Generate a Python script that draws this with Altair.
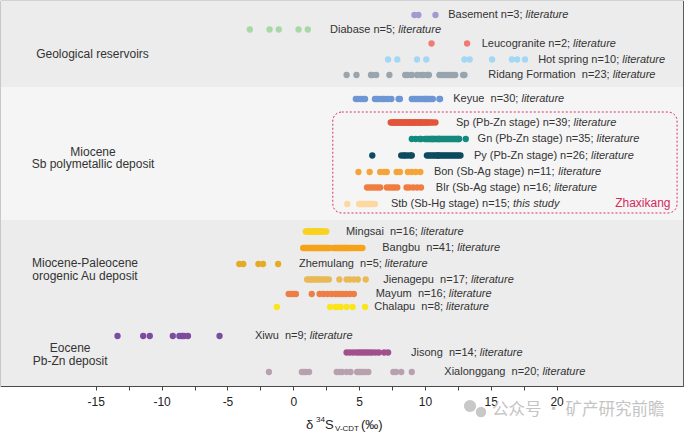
import altair as alt
import pandas as pd

# ---------------- data ----------------
names = ["Basement", "Diabase", "Leucogranite", "Hot spring", "Ridang Formation",
         "Keyue", "Sp (Pb-Zn stage)", "Gn (Pb-Zn stage)", "Py (Pb-Zn stage)",
         "Bon (Sb-Ag stage)", "Blr (Sb-Ag stage)", "Stb (Sb-Hg stage)",
         "Mingsai", "Bangbu", "Zhemulang", "Jienagepu", "Mayum", "Chalapu",
         "Xiwu", "Jisong", "Xialonggang"]
counts = [3, 5, 2, 10, 23, 30, 39, 35, 26, 11, 16, 15, 16, 41, 5, 17, 16, 8, 9, 14, 20]
sources = ["literature"] * 11 + ["this study"] + ["literature"] * 9
wide_gap = [False, False, False, False, True, True, False, False, False, False, False,
            False, True, True, True, True, True, True, True, True, True]

basement = [9.2, 9.5, 10.8]
diabase = [-3.3, -1.8, -1.1, 0.4, 1.1]
leucogranite = [10.5, 13.2]
hot_spring = [7.2, 7.9, 9.4, 10.1, 13.0, 13.4, 15.1, 16.6, 17.0, 17.6]
ridang = [4.05, 4.8, 5.9, 6.0, 6.3, 7.3, 8.5, 8.7, 9.0, 9.4, 9.7, 9.9, 10.2, 10.3,
          11.1, 11.3, 11.5, 11.7, 11.9, 12.1, 12.3, 12.9, 13.0]
keyue = [4.75, 4.9, 5.1, 5.3, 5.45, 6.2, 6.35, 6.5, 6.7, 6.85, 7.0, 7.2, 7.45, 8.0, 8.1,
         9.0, 9.15, 9.3, 9.45, 9.6, 9.75, 9.9, 10.0, 10.1, 10.2, 10.3, 10.45, 10.6, 11.1, 11.15]
sp = [7.4, 7.5, 7.6, 7.65, 7.7, 7.8, 7.9, 8.0, 8.05, 8.1, 8.2, 8.3, 8.4, 8.45, 8.5,
      8.6, 8.7, 8.8, 8.85, 8.9, 9.0, 9.1, 9.2, 9.25, 9.3, 9.4, 9.5, 9.6, 9.65, 9.7,
      9.8, 9.9, 10.0, 10.1, 10.2, 10.3, 10.45, 10.6, 10.8]
gn = [9.0, 9.3, 9.6, 9.7, 10.0, 10.1, 10.2, 10.3, 10.4, 10.5, 10.6, 10.7, 10.8, 10.9,
      11.0, 11.1, 11.2, 11.3, 11.4, 11.5, 11.6, 11.7, 11.8, 11.9, 12.0, 12.1, 12.2,
      12.3, 12.4, 12.5, 12.6, 12.55, 11.05, 10.55, 13.1]
py = [6.0, 8.2, 8.4, 8.5, 8.7, 8.9, 9.0, 10.15, 10.3, 10.45, 10.6, 10.75, 10.9, 11.05,
      11.2, 11.35, 11.5, 11.65, 11.8, 11.95, 12.1, 12.25, 12.4, 12.55, 12.7, 11.0]
bon = [4.95, 5.8, 6.6, 6.9, 7.1, 7.85, 8.1, 8.7, 9.0, 9.3, 9.65]
blr = [5.6, 5.8, 6.0, 6.2, 6.4, 6.6, 7.1, 7.3, 7.5, 7.7, 7.9, 8.6, 8.8, 9.1, 9.4, 9.7]
stb = [4.1, 5.0, 5.05, 5.1, 5.2, 5.3, 5.35, 5.4, 5.5, 5.6, 5.7, 5.8, 5.9, 6.0, 6.2]
mingsai = [0.95, 1.05, 1.15, 1.25, 1.35, 1.45, 1.5, 1.6, 1.7, 1.8, 1.9, 2.0, 2.1, 2.2, 2.35, 2.5]
bangbu = [0.75, 0.85, 0.95, 1.05, 1.15, 1.25, 1.35, 1.45, 1.55, 1.65, 1.75, 1.85, 1.95,
          2.05, 2.15, 2.25, 2.35, 2.45, 2.55, 2.65, 2.75, 3.05, 3.15, 3.25, 3.35, 3.45,
          3.55, 3.65, 3.75, 3.85, 3.95, 4.05, 4.15, 4.25, 4.4, 4.55, 4.7, 4.85, 5.0, 5.1, 5.25]
zhemulang = [-4.1, -3.8, -2.65, -2.3, -1.15]
jienagepu = [1.05, 1.2, 1.35, 1.5, 1.65, 1.8, 1.95, 2.1, 2.3, 2.5, 2.7, 3.5, 4.05, 4.3, 4.6, 4.9, 5.5]
mayum = [-0.35, -0.2, 0.0, 0.2, 1.4, 2.0, 2.3, 2.6, 2.9, 3.2, 3.4, 3.6, 3.8, 4.0, 4.3, 4.6]
chalapu = [-1.25, 2.8, 3.2, 3.35, 3.6, 4.05, 4.5, 5.45]
xiwu = [-13.35, -11.4, -10.9, -9.15, -8.65, -8.45, -8.3, -8.0, -5.6]
jisong = [4.05, 4.3, 4.55, 4.8, 5.0, 5.2, 5.4, 5.6, 5.8, 6.0, 6.25, 6.5, 6.9, 7.2]
xialonggang = [-1.85, 0.65, 0.8, 0.95, 1.2, 3.3, 3.5, 3.7, 4.05, 4.35, 4.85, 5.0, 5.15,
               5.3, 5.5, 5.7, 7.6, 7.8, 8.2, 9.0]

series = [basement, diabase, leucogranite, hot_spring, ridang, keyue, sp, gn, py, bon,
          blr, stb, mingsai, bangbu, zhemulang, jienagepu, mayum, chalapu, xiwu, jisong,
          xialonggang]

group_names = ["Geological reservoirs", "Miocene\nSb polymetallic deposit",
               "Miocene-Paleocene\norogenic Au deposit", "Eocene\nPb-Zn deposit"]
tick_values = [-15, -12.5, -10, -7.5, -5, -2.5, 0, 2.5, 5, 7.5, 10, 12.5, 15, 17.5, 20]

# ---------------- styles / layout ----------------
colors = ["#a599d1", "#a6d9a6", "#f07b74", "#a3d7f5", "#98a5ae", "#6e96d4", "#e2553b",
          "#138a7c", "#0c4a5f", "#f5a43a", "#f07d3f", "#fdd8a0", "#f8d21e", "#f6a31a",
          "#e4ac25", "#e9b955", "#ec7e46", "#fae51c", "#7b4c9f", "#a0508c", "#b8a1ae"]
row_pos = [15, 29.5, 43.5, 59.5, 75, 99, 122.5, 139, 155.5, 172, 187.5, 204,
           231.5, 248, 264, 279.5, 294, 307, 336, 352.5, 372]
label_pos = [11.77, 2.79, 14.31, 18.6, 14.81, 12.15, 12.35, 14.0, 13.72, 10.68, 10.83,
             7.42, 4.0, 6.76, 0.43, 6.83, 6.26, 6.15, -2.91, 8.94, 11.47]
group_x = [-15.25, -15.21, -15.82, -16.95]
group_y = [54, 151.7, 263.3, 348.3]
bands = [(1, 87, "#ececec"), (87, 220, "#f5f5f5"), (220, 386, "#ececec")]

FONT = "Liberation Sans"
X_DOMAIN = [-22.2, 29.6]
Y_DOMAIN = [1, 386]
W, H = 682, 385
PX_PER_UNIT = W / (X_DOMAIN[1] - X_DOMAIN[0])
LABEL_SIZE = 11

# Arial / Liberation Sans advance widths (per 1000 em) for label layout
CW = {" ": 278, "\u00a0": 278, "(": 333, ")": 333, "-": 333, ";": 278, "=": 584,
      "A": 667, "B": 667, "C": 722, "D": 722, "F": 611, "G": 778, "H": 722, "J": 500,
      "K": 667, "M": 833, "P": 667, "R": 722, "S": 667, "X": 667, "Z": 611,
      "b": 556, "c": 500, "f": 278, "i": 222, "k": 500, "l": 222, "m": 833, "r": 333,
      "s": 500, "t": 278, "v": 500, "w": 722, "x": 500, "y": 500, "z": 500}


def text_width(s, size):
    return sum(CW.get(ch, 556) for ch in s) * size / 1000.0


pt_rows, lab_rows = [], []
for i, name in enumerate(names):
    for v in series[i]:
        pt_rows.append({"name": name, "d34S": v, "row": row_pos[i], "color": colors[i]})
    gap = " \u00a0" if wide_gap[i] else " "
    normal = f"{name}{gap}n={counts[i]};\u00a0"
    lab_rows.append({"normal": normal, "italic": sources[i], "x": label_pos[i],
                     "xi": label_pos[i] + text_width(normal, LABEL_SIZE) / PX_PER_UNIT,
                     "row": row_pos[i]})
points = pd.DataFrame(pt_rows)
labels = pd.DataFrame(lab_rows)
groups = pd.DataFrame({"text": group_names, "x": group_x, "y": group_y})
band_df = pd.DataFrame({"y": [b[0] for b in bands], "y2": [b[1] for b in bands],
                        "fill": [b[2] for b in bands],
                        "x": [X_DOMAIN[0]] * 3, "x2": [X_DOMAIN[1]] * 3})
box_df = pd.DataFrame({"x": [3.0], "x2": [29.15], "y": [112], "y2": [213],
                       "tx": [26.55], "ty": [202.5], "t": ["Zhaxikang"]})
one = pd.DataFrame({"a": [0]})

xs = alt.Scale(domain=X_DOMAIN, nice=False, zero=False)
ys = alt.Scale(domain=Y_DOMAIN, reverse=True, nice=False, zero=False)
xaxis = alt.Axis(values=tick_values,
                 labelExpr="datum.value % 5 == 0 ? toString(datum.value) : ''",
                 title=None, grid=False, domain=False, ticks=True, tickSize=4,
                 tickColor="#444444", tickWidth=1, labelFont=FONT,
                 labelFontSize=12, labelColor="#222222", labelPadding=6,
                 labelFlush=False)


def X(field):
    return alt.X(field, scale=xs, axis=xaxis)


def Y(field):
    return alt.Y(field, scale=ys, axis=None)


bg = alt.Chart(band_df).mark_rect().encode(
    x=X("x:Q"), x2="x2:Q", y=Y("y:Q"), y2="y2:Q",
    fill=alt.Fill("fill:N", scale=None))

box = alt.Chart(box_df).mark_rect(fillOpacity=0, stroke="#d8326a", strokeWidth=1,
                                  strokeDash=[2, 2], cornerRadius=9).encode(
    x=X("x:Q"), x2="x2:Q", y=Y("y:Q"), y2="y2:Q")

box_text = alt.Chart(box_df).mark_text(font=FONT, fontSize=12, color="#d42a5c",
                                       baseline="middle", align="center").encode(
    x=X("tx:Q"), y=Y("ty:Q"), text="t:N")

pts = alt.Chart(points).mark_circle(size=40, opacity=1).encode(
    x=X("d34S:Q"), y=Y("row:Q"),
    color=alt.Color("color:N", scale=None))

lab1 = alt.Chart(labels).mark_text(font=FONT, fontSize=LABEL_SIZE, color="#333333",
                                   align="left", baseline="middle").encode(
    x=X("x:Q"), y=Y("row:Q"), text="normal:N")
lab2 = alt.Chart(labels).mark_text(font=FONT, fontSize=LABEL_SIZE, color="#333333",
                                   fontStyle="italic", align="left",
                                   baseline="middle").encode(
    x=X("xi:Q"), y=Y("row:Q"), text="italic:N")

grp = alt.Chart(groups).mark_text(font=FONT, fontSize=12, color="#333333",
                                  align="center", baseline="middle", lineBreak="\n",
                                  lineHeight=12.5).encode(
    x=X("x:Q"), y=Y("y:Q"), text="text:N")

# axis title: δ34S(V-CDT) (‰) built from pieces
title_pieces = [("δ", 13, 305, 424), ("34", 8, 315, 419), ("S", 13, 324, 424),
                ("V-CDT", 8, 334, 428), ("(‰)", 13, 360, 424)]
title_layers = [
    alt.Chart(one).mark_text(text=t, font=FONT, fontSize=s, color="#222222",
                             align="left", baseline="middle").encode(
        x=alt.value(px), y=alt.value(py))
    for t, s, px, py in title_pieces]

# watermark (WeChat-style icon + text)
icon = alt.Chart(pd.DataFrame({"px": [469, 480], "py": [405, 411], "s": [150, 110]})).mark_circle(
    color="#c8c8c8", opacity=1).encode(
    x=alt.X("px:Q", scale=None), y=alt.Y("py:Q", scale=None), size=alt.Size("s:Q", scale=None))
watermark = alt.Chart(one).mark_text(text="公众号 · 矿产研究前瞻", font="Noto Sans CJK SC",
                                     fontSize=16.5, color="#c4c4c4", align="left",
                                     baseline="middle").encode(
    x=alt.value(491), y=alt.value(409))

chart = alt.layer(bg, box, pts, lab1, lab2, grp, box_text, *title_layers, icon,
                  watermark).properties(
    width=W, height=H,
    autosize=alt.AutoSizeParams(type="none"),
    padding={"left": 1, "top": 1, "right": 2, "bottom": 49},
    background="white",
).resolve_scale(x="shared").configure_view(stroke="#4a4a4a", strokeWidth=1.2)

chart.save("out.html", embed_options={"renderer": "svg", "actions": False})
